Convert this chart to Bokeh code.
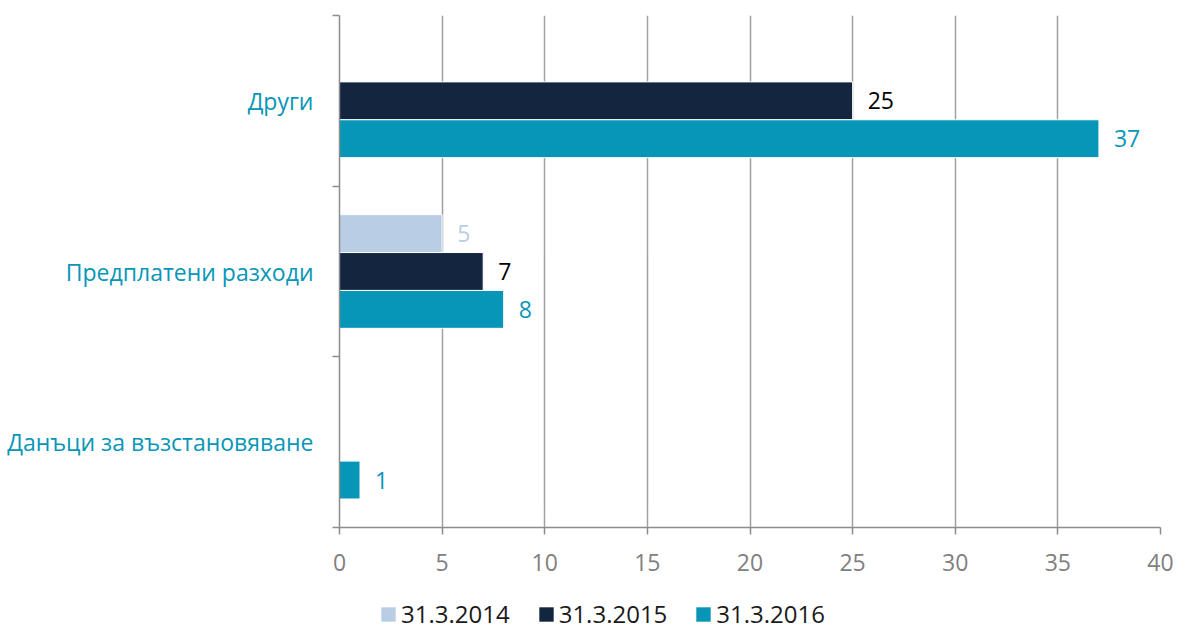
import numpy as np
from bokeh.plotting import figure
from bokeh.layouts import column
from bokeh.models import (ColumnDataSource, FixedTicker, Range1d, Legend,
                          LegendItem, LabelSet)
from bokeh.core.properties import value
from bokeh.embed import file_html
from bokeh.resources import INLINE

# ---- data (categories listed bottom to top) ----
categories = ["Данъци за възстановяване", "Предплатени разходи", "Други"]
series = ["31.3.2014", "31.3.2015", "31.3.2016"]
v2014 = [None, 5, None]
v2015 = [None, 7, 25]
v2016 = [1, 8, 37]
x_ticks = [0, 5, 10, 15, 20, 25, 30, 35, 40]

values = [v2014, v2015, v2016]
bar_colors = ["#b9cde5", "#13253f", "#0796b8"]
label_colors = ["#b9cde5", "#000000", "#0796b8"]
offsets = [0.222, 0.0, -0.222]
bar_h = 0.222

FONT = "Open Sans"

p = figure(width=1177, height=585, output_backend="svg", toolbar_location=None,
           x_range=Range1d(0, 40), y_range=Range1d(0, len(categories)),
           min_border_left=339, min_border_right=17, min_border_top=15,
           min_border_bottom=58)
p.outline_line_color = None
p.background_fill_color = "white"
p.border_fill_color = "white"

for vals, col, lcol, off in zip(values, bar_colors, label_colors, offsets):
    idx = [i for i, v in enumerate(vals) if v is not None]
    xs = [vals[i] for i in idx]
    ys = [i + 0.5 + off for i in idx]
    src = ColumnDataSource(dict(x=xs, y=ys, text=[str(v) for v in xs]))
    p.hbar(y="y", right="x", left=0, height=bar_h, source=src,
           fill_color=col, line_color="white", line_width=1)
    lbl = LabelSet(x="x", y="y", text="text", source=src, x_offset=15,
                   text_align="left", text_baseline="middle",
                   text_color=lcol, text_font=value(FONT),
                   text_font_size="23px")
    p.add_layout(lbl)

# x axis
p.xaxis.ticker = FixedTicker(ticks=x_ticks)
p.xaxis.axis_line_color = "#8c8c8c"
p.xaxis.axis_line_width = 1.5
p.xaxis.major_tick_line_color = "#8c8c8c"
p.xaxis.major_tick_line_width = 1.5
p.xaxis.major_tick_out = 7
p.xaxis.major_tick_in = 0
p.xaxis.minor_tick_line_color = None
p.xaxis.major_label_text_color = "#808080"
p.xaxis.major_label_text_font = FONT
p.xaxis.major_label_text_font_size = "23px"
p.xaxis.major_label_standoff = 19

# y axis: labels at centers, ticks at boundaries
p.yaxis.ticker = FixedTicker(ticks=[i + 0.5 for i in range(len(categories))],
                             minor_ticks=list(range(len(categories) + 1)))
p.yaxis.major_label_overrides = {i + 0.5: c for i, c in enumerate(categories)}
p.yaxis.axis_line_color = "#8c8c8c"
p.yaxis.axis_line_width = 1.5
p.yaxis.major_tick_line_color = None
p.yaxis.major_tick_out = 0
p.yaxis.major_tick_in = 0
p.yaxis.minor_tick_line_color = "#8c8c8c"
p.yaxis.minor_tick_line_width = 1.5
p.yaxis.minor_tick_out = 7
p.yaxis.minor_tick_in = 0
p.yaxis.major_label_text_color = "#0796b8"
p.yaxis.major_label_text_font = FONT
p.yaxis.major_label_text_font_size = "23px"
p.yaxis.major_label_standoff = 19

p.xgrid.ticker = FixedTicker(ticks=x_ticks)
p.xgrid.grid_line_color = "#a0a0a0"
p.xgrid.grid_line_width = 1.5
p.ygrid.grid_line_color = None

# ---- legend strip (frame is aligned with the chart's frame by the column) ----
q = figure(width=1177, height=45, output_backend="svg", toolbar_location=None,
           x_range=Range1d(0, 1), y_range=Range1d(0, 1),
           min_border=0, min_border_left=0, min_border_right=0,
           min_border_top=0, min_border_bottom=0)
q.axis.visible = False
q.grid.visible = False
q.outline_line_color = None
q.border_fill_color = "white"
leg_renderers = []
for col in bar_colors:
    # legend-key renderers only; their bar lies outside the visible range
    r = q.hbar(y=[-5], right=[-5], left=-6, height=0.5, fill_color=col, line_color=None)
    leg_renderers.append(r)

legend = Legend(items=[LegendItem(label=s, renderers=[r]) for s, r in zip(series, leg_renderers)],
                orientation="horizontal", location=(40, 0),
                glyph_width=18, glyph_height=18, label_standoff=4, spacing=27,
                padding=0, margin=0, border_line_color=None,
                background_fill_alpha=0,
                label_text_font=FONT, label_text_font_size="24px",
                label_text_color="#1a1a1a")
q.add_layout(legend, "center")

layout = column(p, q, spacing=0)
open("out.html", "w").write(file_html(layout, INLINE))
